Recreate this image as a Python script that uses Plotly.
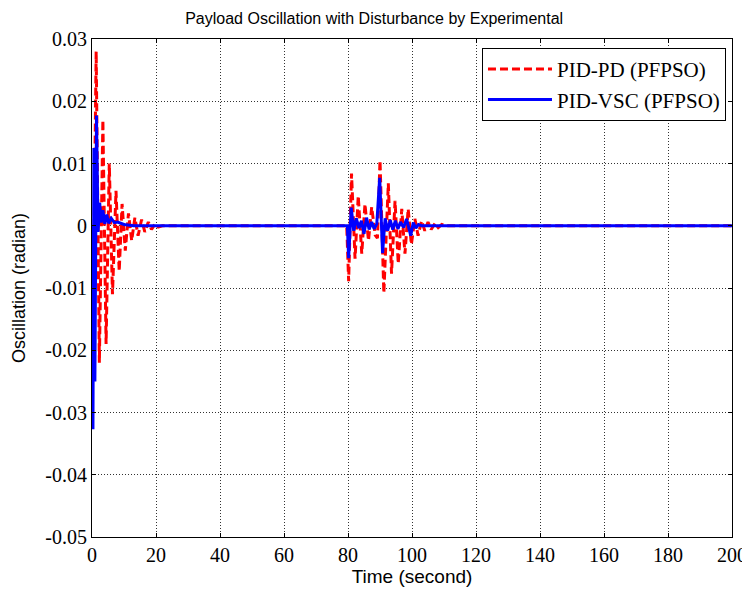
import plotly.graph_objects as go

# PID-PD (PFPSO) - red dashed
pd_time = [0, 0.6, 1.3, 2.3, 3.4, 4.4, 5.4, 6.4, 7.5, 8.5, 9.4, 10.4, 11.4, 12.4, 13.4,
           14.4, 15.5, 16.5, 17.6, 18.6, 19.7, 20.7, 22.0,
           79.6, 80.2, 81.1, 82.2, 83.2, 84.3, 85.3, 86.4, 87.4, 88.5, 89.2, 90.0, 91.2,
           92.6, 93.6, 94.7, 95.7, 96.8, 97.8, 98.8, 99.8, 100.9, 101.9, 103.0, 104.0,
           105.0, 106.0, 107.2, 108.2, 109.3, 110.5, 200]
pd_vals = [0, -0.004, 0.028, -0.022, 0.017, -0.019, 0.010, -0.011, 0.0056, -0.0073, 0.0035,
           -0.004, 0.002, -0.0024, 0.0013, -0.0016, 0.001, -0.001, 0.0006, -0.0006, 0.0003,
           -0.0002, 0,
           0, -0.0089, 0.0084, -0.0053, 0.0048, -0.0045, 0.0035, -0.0024, 0.003, -0.0015,
           -0.002, 0.0105, -0.0108,
           0.0068, -0.0077, 0.004, -0.0061, 0.0027, -0.0045, 0.0027, -0.003, 0.0011, -0.0016,
           0.0008, -0.0008, 0.0006, -0.0006, 0.0004, -0.0003, 0.0002, 0, 0]

# PID-VSC (PFPSO) - blue solid
vsc_time = [0, 0.3, 0.6, 0.9, 1.4, 1.9, 2.4, 2.9, 3.4, 4.0, 4.6, 5.2, 6.0, 7.0, 8.0, 10.0, 13.0,
            79.8, 80.2, 81.0, 81.8, 82.6, 83.4, 84.2, 85.0, 85.8, 86.6, 87.4, 88.2, 89.0,
            89.9, 90.8, 91.6, 92.4, 93.2, 94.0, 94.8, 95.6, 96.4, 97.4, 98.3, 99.6, 100.4,
            101.2, 102.0, 103.0, 200]
vsc_vals = [0, -0.0327, 0.0125, -0.025, 0.0177, -0.001, 0.0037, 0.0005, 0.0025, 0.0003,
            0.0018, 0.0004, 0.0012, 0.0005, 0.0006, 0.0002, 0,
            0, -0.0052, 0.0029, -0.0008, 0.0012, -0.0004, 0.0008, -0.0013, 0.0013, -0.0006,
            0.0006, -0.0005, 0.0003,
            0.0077, -0.0044, 0.0012, -0.0008, 0.0009, -0.0006, 0.0008, -0.0005, 0.0006,
            -0.0003, 0.0011, -0.0016, 0.0005, -0.0004, 0.0002, 0, 0]

x_ticks = [0, 20, 40, 60, 80, 100, 120, 140, 160, 180, 200]
x_ticktext = ["0", "20", "40", "60", "80", "100", "120", "140", "160", "180", "200"]
y_ticks = [0.03, 0.02, 0.01, 0, -0.01, -0.02, -0.03, -0.04, -0.05]
y_ticktext = ["0.03", "0.02", "0.01", "0", "-0.01", "-0.02", "-0.03", "-0.04", "-0.05"]

fig = go.Figure()
fig.add_trace(go.Scatter(x=pd_time, y=pd_vals, mode="lines", name="PID-PD (PFPSO)",
                         line=dict(color="#ff0000", width=3, dash="8px,4px")))
fig.add_trace(go.Scatter(x=vsc_time, y=vsc_vals, mode="lines", name="PID-VSC (PFPSO)",
                         line=dict(color="#0000ff", width=3)))

serif = "Liberation Serif, Times New Roman, serif"
sans = "Liberation Sans, Arial, sans-serif"

# page body has an 8px margin: figure is 742x584 so the photographed 750x592 window matches
fig.update_layout(
    width=742, height=584,
    margin=dict(l=84, r=18, t=31, b=55),
    paper_bgcolor="white", plot_bgcolor="white",
    title=dict(text="Payload Oscillation with Disturbance by Experimental",
               x=0.4935, xref="container", xanchor="center",
               y=1 - 10 / 584, yref="container", yanchor="middle",
               font=dict(family=sans, size=16, color="black")),
    showlegend=True,
    legend=dict(x=0.9906, xanchor="right", y=0.982, yanchor="top",
                bgcolor="white", bordercolor="black", borderwidth=1,
                font=dict(family=serif, size=21, color="black"),
                tracegroupgap=0, itemwidth=64),
)
fig.update_xaxes(
    range=[0, 200], tickvals=x_ticks, ticktext=x_ticktext, automargin=False,
    showline=True, linecolor="black", linewidth=1, mirror="ticks",
    ticks="inside", ticklen=4, tickcolor="black",
    showgrid=True, gridcolor="#333333", griddash="1px,2px", gridwidth=1,
    zeroline=False,
    tickfont=dict(family=serif, size=20, color="black"),
    title=dict(text="Time (second)", font=dict(family=sans, size=19, color="black"), standoff=0),
)
fig.update_yaxes(
    range=[-0.05, 0.03], tickvals=y_ticks, ticktext=y_ticktext, automargin=False,
    showline=True, linecolor="black", linewidth=1, mirror="ticks",
    ticks="inside", ticklen=4, tickcolor="black",
    showgrid=True, gridcolor="#333333", griddash="1px,2px", gridwidth=1,
    zeroline=False,
    tickfont=dict(family=serif, size=20, color="black"),
    title=dict(text="Oscillation (radian)", font=dict(family=sans, size=18, color="black"), standoff=15),
)

fig.write_html("out.html")
